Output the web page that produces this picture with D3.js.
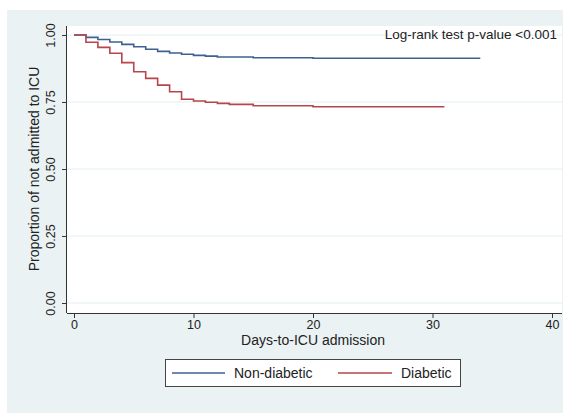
<!DOCTYPE html>
<html>
<head>
<meta charset="utf-8">
<script src="https://cdn.jsdelivr.net/npm/d3@7"></script>
<style>
  body { margin: 0; background: #ffffff; }
  svg { display: block; }
  text { font-family: "Liberation Sans", Arial, Helvetica, sans-serif; fill: #222; }
</style>
</head>
<body>
<svg id="chart" width="564" height="416"></svg>
<script>
// ---- data ----
const nonDiabeticDays   = [0, 1, 2, 3, 4, 5, 6, 7, 8, 9, 10, 11, 12, 15, 20, 34];
const nonDiabeticValues = [1.0, 0.991, 0.983, 0.974, 0.965, 0.956, 0.947, 0.939, 0.933, 0.928, 0.924, 0.921, 0.918, 0.915, 0.913, 0.913];
const diabeticDays      = [0, 1, 2, 3, 4, 5, 6, 7, 8, 9, 10, 11, 12, 13, 15, 20, 31];
const diabeticValues    = [1.0, 0.973, 0.954, 0.932, 0.897, 0.863, 0.838, 0.813, 0.788, 0.760, 0.754, 0.749, 0.745, 0.741, 0.736, 0.732, 0.732];
const xTicks = [0, 10, 20, 30, 40];
const yTicks = [0, 0.25, 0.5, 0.75, 1.0];
const seriesNames = ["Non-diabetic", "Diabetic"];
const seriesColors = ["#3f6190", "#b5464b"];
const annotation = "Log-rank test p-value <0.001";
const xTitle = "Days-to-ICU admission";
const yTitle = "Proportion of not admitted to ICU";

const svg = d3.select("#chart");

// graph region background
svg.append("rect").attr("x", 7).attr("y", 10).attr("width", 556).attr("height", 403)
  .attr("fill", "#eaf2f4");

// plot region
const plot = { left: 67, right: 562, top: 26, bottom: 313 };
svg.append("rect").attr("x", plot.left).attr("y", plot.top)
  .attr("width", plot.right - plot.left).attr("height", plot.bottom - plot.top)
  .attr("fill", "#ffffff");

const x = d3.scaleLinear().domain([0, 40]).range([74, 552]);
const y = d3.scaleLinear().domain([0, 1]).range([303, 35]);

// grid lines
svg.append("g").selectAll("line").data(yTicks).join("line")
  .attr("x1", plot.left).attr("x2", plot.right)
  .attr("y1", d => y(d)).attr("y2", d => y(d))
  .attr("stroke", "#e4eef1").attr("stroke-width", 1);

// axes
const xAxis = d3.axisBottom(x).tickValues(xTicks).tickFormat(d3.format("d"))
  .tickSizeInner(5).tickSizeOuter(0).tickPadding(2);
const gx = svg.append("g").attr("transform", `translate(0,${plot.bottom})`).call(xAxis);
gx.select(".domain").attr("d", `M${plot.left},0.5H${plot.right}`).attr("stroke", "#333");
gx.selectAll(".tick line").attr("stroke", "#333");
gx.selectAll(".tick text").attr("font-size", 12.5).attr("fill", "#222")
  .attr("font-family", "Liberation Sans, Arial, sans-serif");

const yAxis = d3.axisLeft(y).tickValues(yTicks).tickFormat(d3.format(".2f"))
  .tickSizeInner(5).tickSizeOuter(0).tickPadding(3);
const gy = svg.append("g").attr("transform", `translate(${plot.left},0)`).call(yAxis);
gy.select(".domain").attr("d", `M-0.5,${plot.top}V${plot.bottom}`).attr("stroke", "#333");
gy.selectAll(".tick line").attr("stroke", "#333");
gy.selectAll(".tick text").attr("font-size", 12.5).attr("fill", "#222")
  .attr("font-family", "Liberation Sans, Arial, sans-serif")
  .attr("text-anchor", "middle").attr("x", 0).attr("y", 0).attr("dy", 0)
  .attr("transform", "translate(-12,0) rotate(-90)");

// survival curves
const line = d3.line().x(d => x(d[0])).y(d => y(d[1])).curve(d3.curveStepAfter);
const series = [
  d3.zip(nonDiabeticDays, nonDiabeticValues),
  d3.zip(diabeticDays, diabeticValues)
];
svg.append("g").selectAll("path").data(series).join("path")
  .attr("d", d => line(d)).attr("fill", "none")
  .attr("stroke", (d, i) => seriesColors[i]).attr("stroke-width", 1.6);

// annotation
svg.append("text").attr("x", 557).attr("y", 39).attr("text-anchor", "end")
  .attr("font-size", 13.5).text(annotation);

// axis titles
svg.append("text").attr("x", 313).attr("y", 345).attr("text-anchor", "middle")
  .attr("font-size", 14).text(xTitle);
svg.append("text").attr("transform", "translate(39,169) rotate(-90)")
  .attr("text-anchor", "middle").attr("font-size", 14).text(yTitle);

// legend
const lg = svg.append("g");
lg.append("rect").attr("x", 165.5).attr("y", 359.5).attr("width", 295).attr("height", 27)
  .attr("fill", "#ffffff").attr("stroke", "#444").attr("stroke-width", 1);
const legendItems = [
  { x1: 172, x2: 225, tx: 234 },
  { x1: 338, x2: 392, tx: 401 }
];
legendItems.forEach((it, i) => {
  lg.append("line").attr("x1", it.x1).attr("x2", it.x2).attr("y1", 373).attr("y2", 373)
    .attr("stroke", seriesColors[i]).attr("stroke-width", 1.6);
  lg.append("text").attr("x", it.tx).attr("y", 378).attr("font-size", 14).text(seriesNames[i]);
});
</script>
</body>
</html>
